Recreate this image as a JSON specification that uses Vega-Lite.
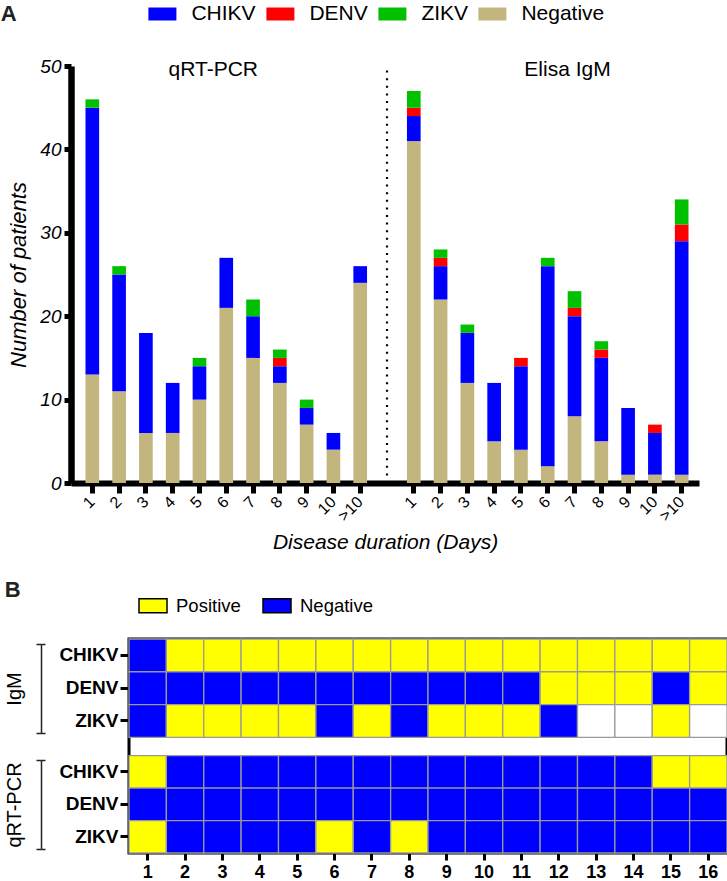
{
  "$schema": "https://vega.github.io/schema/vega-lite/v6.json",
  "padding": {"left": 0, "top": 0, "right": 2, "bottom": 10},
  "autosize": {"type": "pad"},
  "background": "white",
  "config": {
    "font": "Liberation Sans",
    "view": {"stroke": null},
    "axis": {"grid": false, "zindex": 1}
  },
  "datasets": {
    "stackOrder": [
      {"result": "Negative", "level": 1}, {"result": "CHIKV", "level": 2}, {"result": "DENV", "level": 3}, {"result": "ZIKV", "level": 4}
    ],
    "bars": [
      {"day": "q1", "result": "Negative", "n": 13}, {"day": "q1", "result": "CHIKV", "n": 32}, {"day": "q1", "result": "ZIKV", "n": 1},
      {"day": "q2", "result": "Negative", "n": 11}, {"day": "q2", "result": "CHIKV", "n": 14}, {"day": "q2", "result": "ZIKV", "n": 1},
      {"day": "q3", "result": "Negative", "n": 6}, {"day": "q3", "result": "CHIKV", "n": 12},
      {"day": "q4", "result": "Negative", "n": 6}, {"day": "q4", "result": "CHIKV", "n": 6},
      {"day": "q5", "result": "Negative", "n": 10}, {"day": "q5", "result": "CHIKV", "n": 4}, {"day": "q5", "result": "ZIKV", "n": 1},
      {"day": "q6", "result": "Negative", "n": 21}, {"day": "q6", "result": "CHIKV", "n": 6},
      {"day": "q7", "result": "Negative", "n": 15}, {"day": "q7", "result": "CHIKV", "n": 5}, {"day": "q7", "result": "ZIKV", "n": 2},
      {"day": "q8", "result": "Negative", "n": 12}, {"day": "q8", "result": "CHIKV", "n": 2}, {"day": "q8", "result": "DENV", "n": 1}, {"day": "q8", "result": "ZIKV", "n": 1},
      {"day": "q9", "result": "Negative", "n": 7}, {"day": "q9", "result": "CHIKV", "n": 2}, {"day": "q9", "result": "ZIKV", "n": 1},
      {"day": "q10", "result": "Negative", "n": 4}, {"day": "q10", "result": "CHIKV", "n": 2},
      {"day": "q>10", "result": "Negative", "n": 24}, {"day": "q>10", "result": "CHIKV", "n": 2},
      {"day": "e1", "result": "Negative", "n": 41}, {"day": "e1", "result": "CHIKV", "n": 3}, {"day": "e1", "result": "DENV", "n": 1}, {"day": "e1", "result": "ZIKV", "n": 2},
      {"day": "e2", "result": "Negative", "n": 22}, {"day": "e2", "result": "CHIKV", "n": 4}, {"day": "e2", "result": "DENV", "n": 1}, {"day": "e2", "result": "ZIKV", "n": 1},
      {"day": "e3", "result": "Negative", "n": 12}, {"day": "e3", "result": "CHIKV", "n": 6}, {"day": "e3", "result": "ZIKV", "n": 1},
      {"day": "e4", "result": "Negative", "n": 5}, {"day": "e4", "result": "CHIKV", "n": 7},
      {"day": "e5", "result": "Negative", "n": 4}, {"day": "e5", "result": "CHIKV", "n": 10}, {"day": "e5", "result": "DENV", "n": 1},
      {"day": "e6", "result": "Negative", "n": 2}, {"day": "e6", "result": "CHIKV", "n": 24}, {"day": "e6", "result": "ZIKV", "n": 1},
      {"day": "e7", "result": "Negative", "n": 8}, {"day": "e7", "result": "CHIKV", "n": 12}, {"day": "e7", "result": "DENV", "n": 1}, {"day": "e7", "result": "ZIKV", "n": 2},
      {"day": "e8", "result": "Negative", "n": 5}, {"day": "e8", "result": "CHIKV", "n": 10}, {"day": "e8", "result": "DENV", "n": 1}, {"day": "e8", "result": "ZIKV", "n": 1},
      {"day": "e9", "result": "Negative", "n": 1}, {"day": "e9", "result": "CHIKV", "n": 8},
      {"day": "e10", "result": "Negative", "n": 1}, {"day": "e10", "result": "CHIKV", "n": 5}, {"day": "e10", "result": "DENV", "n": 1},
      {"day": "e>10", "result": "Negative", "n": 1}, {"day": "e>10", "result": "CHIKV", "n": 28}, {"day": "e>10", "result": "DENV", "n": 2}, {"day": "e>10", "result": "ZIKV", "n": 3}
    ],
    "cells": [
      {"c": 1, "g": "IgM", "v": "CHIKV", "r": "Negative"}, {"c": 2, "g": "IgM", "v": "CHIKV", "r": "Positive"}, {"c": 3, "g": "IgM", "v": "CHIKV", "r": "Positive"}, {"c": 4, "g": "IgM", "v": "CHIKV", "r": "Positive"},
      {"c": 5, "g": "IgM", "v": "CHIKV", "r": "Positive"}, {"c": 6, "g": "IgM", "v": "CHIKV", "r": "Positive"}, {"c": 7, "g": "IgM", "v": "CHIKV", "r": "Positive"}, {"c": 8, "g": "IgM", "v": "CHIKV", "r": "Positive"},
      {"c": 9, "g": "IgM", "v": "CHIKV", "r": "Positive"}, {"c": 10, "g": "IgM", "v": "CHIKV", "r": "Positive"}, {"c": 11, "g": "IgM", "v": "CHIKV", "r": "Positive"}, {"c": 12, "g": "IgM", "v": "CHIKV", "r": "Positive"},
      {"c": 13, "g": "IgM", "v": "CHIKV", "r": "Positive"}, {"c": 14, "g": "IgM", "v": "CHIKV", "r": "Positive"}, {"c": 15, "g": "IgM", "v": "CHIKV", "r": "Positive"}, {"c": 16, "g": "IgM", "v": "CHIKV", "r": "Positive"},
      {"c": 1, "g": "IgM", "v": "DENV", "r": "Negative"}, {"c": 2, "g": "IgM", "v": "DENV", "r": "Negative"}, {"c": 3, "g": "IgM", "v": "DENV", "r": "Negative"}, {"c": 4, "g": "IgM", "v": "DENV", "r": "Negative"},
      {"c": 5, "g": "IgM", "v": "DENV", "r": "Negative"}, {"c": 6, "g": "IgM", "v": "DENV", "r": "Negative"}, {"c": 7, "g": "IgM", "v": "DENV", "r": "Negative"}, {"c": 8, "g": "IgM", "v": "DENV", "r": "Negative"},
      {"c": 9, "g": "IgM", "v": "DENV", "r": "Negative"}, {"c": 10, "g": "IgM", "v": "DENV", "r": "Negative"}, {"c": 11, "g": "IgM", "v": "DENV", "r": "Negative"}, {"c": 12, "g": "IgM", "v": "DENV", "r": "Positive"},
      {"c": 13, "g": "IgM", "v": "DENV", "r": "Positive"}, {"c": 14, "g": "IgM", "v": "DENV", "r": "Positive"}, {"c": 15, "g": "IgM", "v": "DENV", "r": "Negative"}, {"c": 16, "g": "IgM", "v": "DENV", "r": "Positive"},
      {"c": 1, "g": "IgM", "v": "ZIKV", "r": "Negative"}, {"c": 2, "g": "IgM", "v": "ZIKV", "r": "Positive"}, {"c": 3, "g": "IgM", "v": "ZIKV", "r": "Positive"}, {"c": 4, "g": "IgM", "v": "ZIKV", "r": "Positive"},
      {"c": 5, "g": "IgM", "v": "ZIKV", "r": "Positive"}, {"c": 6, "g": "IgM", "v": "ZIKV", "r": "Negative"}, {"c": 7, "g": "IgM", "v": "ZIKV", "r": "Positive"}, {"c": 8, "g": "IgM", "v": "ZIKV", "r": "Negative"},
      {"c": 9, "g": "IgM", "v": "ZIKV", "r": "Positive"}, {"c": 10, "g": "IgM", "v": "ZIKV", "r": "Positive"}, {"c": 11, "g": "IgM", "v": "ZIKV", "r": "Positive"}, {"c": 12, "g": "IgM", "v": "ZIKV", "r": "Negative"},
      {"c": 13, "g": "IgM", "v": "ZIKV", "r": "Not tested"}, {"c": 14, "g": "IgM", "v": "ZIKV", "r": "Not tested"}, {"c": 15, "g": "IgM", "v": "ZIKV", "r": "Positive"}, {"c": 16, "g": "IgM", "v": "ZIKV", "r": "Not tested"},
      {"c": 1, "g": "qRT-PCR", "v": "CHIKV", "r": "Positive"}, {"c": 2, "g": "qRT-PCR", "v": "CHIKV", "r": "Negative"}, {"c": 3, "g": "qRT-PCR", "v": "CHIKV", "r": "Negative"}, {"c": 4, "g": "qRT-PCR", "v": "CHIKV", "r": "Negative"},
      {"c": 5, "g": "qRT-PCR", "v": "CHIKV", "r": "Negative"}, {"c": 6, "g": "qRT-PCR", "v": "CHIKV", "r": "Negative"}, {"c": 7, "g": "qRT-PCR", "v": "CHIKV", "r": "Negative"}, {"c": 8, "g": "qRT-PCR", "v": "CHIKV", "r": "Negative"},
      {"c": 9, "g": "qRT-PCR", "v": "CHIKV", "r": "Negative"}, {"c": 10, "g": "qRT-PCR", "v": "CHIKV", "r": "Negative"}, {"c": 11, "g": "qRT-PCR", "v": "CHIKV", "r": "Negative"}, {"c": 12, "g": "qRT-PCR", "v": "CHIKV", "r": "Negative"},
      {"c": 13, "g": "qRT-PCR", "v": "CHIKV", "r": "Negative"}, {"c": 14, "g": "qRT-PCR", "v": "CHIKV", "r": "Negative"}, {"c": 15, "g": "qRT-PCR", "v": "CHIKV", "r": "Positive"}, {"c": 16, "g": "qRT-PCR", "v": "CHIKV", "r": "Positive"},
      {"c": 1, "g": "qRT-PCR", "v": "DENV", "r": "Negative"}, {"c": 2, "g": "qRT-PCR", "v": "DENV", "r": "Negative"}, {"c": 3, "g": "qRT-PCR", "v": "DENV", "r": "Negative"}, {"c": 4, "g": "qRT-PCR", "v": "DENV", "r": "Negative"},
      {"c": 5, "g": "qRT-PCR", "v": "DENV", "r": "Negative"}, {"c": 6, "g": "qRT-PCR", "v": "DENV", "r": "Negative"}, {"c": 7, "g": "qRT-PCR", "v": "DENV", "r": "Negative"}, {"c": 8, "g": "qRT-PCR", "v": "DENV", "r": "Negative"},
      {"c": 9, "g": "qRT-PCR", "v": "DENV", "r": "Negative"}, {"c": 10, "g": "qRT-PCR", "v": "DENV", "r": "Negative"}, {"c": 11, "g": "qRT-PCR", "v": "DENV", "r": "Negative"}, {"c": 12, "g": "qRT-PCR", "v": "DENV", "r": "Negative"},
      {"c": 13, "g": "qRT-PCR", "v": "DENV", "r": "Negative"}, {"c": 14, "g": "qRT-PCR", "v": "DENV", "r": "Negative"}, {"c": 15, "g": "qRT-PCR", "v": "DENV", "r": "Negative"}, {"c": 16, "g": "qRT-PCR", "v": "DENV", "r": "Negative"},
      {"c": 1, "g": "qRT-PCR", "v": "ZIKV", "r": "Positive"}, {"c": 2, "g": "qRT-PCR", "v": "ZIKV", "r": "Negative"}, {"c": 3, "g": "qRT-PCR", "v": "ZIKV", "r": "Negative"}, {"c": 4, "g": "qRT-PCR", "v": "ZIKV", "r": "Negative"},
      {"c": 5, "g": "qRT-PCR", "v": "ZIKV", "r": "Negative"}, {"c": 6, "g": "qRT-PCR", "v": "ZIKV", "r": "Positive"}, {"c": 7, "g": "qRT-PCR", "v": "ZIKV", "r": "Negative"}, {"c": 8, "g": "qRT-PCR", "v": "ZIKV", "r": "Positive"},
      {"c": 9, "g": "qRT-PCR", "v": "ZIKV", "r": "Negative"}, {"c": 10, "g": "qRT-PCR", "v": "ZIKV", "r": "Negative"}, {"c": 11, "g": "qRT-PCR", "v": "ZIKV", "r": "Negative"}, {"c": 12, "g": "qRT-PCR", "v": "ZIKV", "r": "Negative"},
      {"c": 13, "g": "qRT-PCR", "v": "ZIKV", "r": "Negative"}, {"c": 14, "g": "qRT-PCR", "v": "ZIKV", "r": "Negative"}, {"c": 15, "g": "qRT-PCR", "v": "ZIKV", "r": "Negative"}, {"c": 16, "g": "qRT-PCR", "v": "ZIKV", "r": "Negative"}
    ]
  },
  "spacing": 156,
  "bounds": "flush",
  "resolve": {"scale": {"color": "independent"}, "legend": {"color": "independent"}},
  "vconcat": [
    {
      "width": 570,
      "height": 417,
      "title": {"text": "A", "anchor": "start", "frame": "bounds", "fontSize": 22, "fontWeight": "bold", "color": "#222222", "dx": -7, "dy": 26, "offset": 0},
      "layer": [
        {
          "data": {"name": "bars"},
          "transform": [
            {"lookup": "result", "from": {"data": {"name": "stackOrder"}, "key": "result", "fields": ["level"]}}
          ],
          "mark": {"type": "bar"},
          "encoding": {
            "x": {
              "field": "day", "type": "nominal",
              "scale": {
                "domain": ["q1", "q2", "q3", "q4", "q5", "q6", "q7", "q8", "q9", "q10", "q>10", "gap", "e1", "e2", "e3", "e4", "e5", "e6", "e7", "e8", "e9", "e10", "e>10"],
                "range": [-58, 570], "paddingInner": 0.49, "paddingOuter": 0.466, "align": 0.58
              },
              "axis": {
                "values": ["q1", "q2", "q3", "q4", "q5", "q6", "q7", "q8", "q9", "q10", "q>10", "e1", "e2", "e3", "e4", "e5", "e6", "e7", "e8", "e9", "e10", "e>10"],
                "labelExpr": "substring(datum.value, 1)",
                "labelAngle": -45, "labelAlign": "right", "labelBaseline": "middle",
                "labelFontSize": 16, "labelColor": "black", "labelPadding": 6,
                "tickColor": "black", "tickWidth": 5, "tickSize": 10,
                "domainColor": "black", "domainWidth": 6,
                "title": "Disease duration (Days)", "titleFontSize": 21, "titleFontStyle": "italic", "titleFontWeight": "normal", "titleColor": "black", "titlePadding": 8
              }
            },
            "y": {
              "field": "n", "type": "quantitative", "stack": "zero",
              "scale": {"domain": [0, 50], "nice": false},
              "axis": {
                "orient": "left", "offset": 58, "values": [0, 10, 20, 30, 40, 50],
                "labelFontSize": 19, "labelFontStyle": "italic", "labelColor": "black", "labelPadding": 3,
                "tickColor": "black", "tickWidth": 5, "tickSize": 7,
                "domainColor": "black", "domainWidth": 6.5,
                "title": "Number of patients", "titleFontSize": 22, "titleFontStyle": "italic", "titleFontWeight": "normal", "titleColor": "black", "titlePadding": 9
              }
            },
            "order": {"field": "level", "type": "quantitative", "sort": "ascending"},
            "color": {
              "field": "result", "type": "nominal",
              "scale": {"domain": ["CHIKV", "DENV", "ZIKV", "Negative"], "range": ["#0000FF", "#FF0000", "#00C000", "#C2B67E"]},
              "legend": {
                "orient": "none", "legendX": 19.4, "legendY": -66, "direction": "horizontal", "title": null,
                "symbolType": "M-1,-0.464H1V0.464H-1Z", "symbolSize": 784, "symbolStrokeWidth": 0, "symbolOpacity": 1,
                "labelFontSize": 21, "labelColor": "black", "labelOffset": 15, "columnPadding": 10, "padding": 0
              }
            }
          }
        },
        {
          "data": {"values": [{"label": "qRT-PCR", "day": "q6"}]},
          "mark": {"type": "text", "fontSize": 21, "dx": -13, "dy": 10, "baseline": "alphabetic", "align": "center", "color": "black"},
          "encoding": {
            "x": {"field": "day", "type": "nominal"},
            "y": {"datum": 50, "type": "quantitative"},
            "text": {"field": "label"}
          }
        },
        {
          "data": {"values": [{"label": "Elisa IgM", "day": "e7"}]},
          "mark": {"type": "text", "fontSize": 21, "dx": -7, "dy": 10, "baseline": "alphabetic", "align": "center", "color": "black"},
          "encoding": {
            "x": {"field": "day", "type": "nominal"},
            "y": {"datum": 50, "type": "quantitative"},
            "text": {"field": "label"}
          }
        },
        {
          "data": {"values": [{}]},
          "mark": {"type": "rule", "strokeDash": [2, 5.6], "strokeWidth": 2.2, "color": "black"},
          "encoding": {
            "x": {"datum": "gap", "type": "nominal"},
            "y": {"datum": 0, "type": "quantitative"},
            "y2": {"datum": 50}
          }
        }
      ]
    },
    {
      "width": 598,
      "height": 214,
      "view": {"stroke": "black", "strokeWidth": 3},
      "title": {"text": "B", "anchor": "start", "frame": "bounds", "fontSize": 22, "fontWeight": "bold", "color": "#222222", "dx": 0.5, "dy": 11.7, "offset": 0},
      "data": {"name": "cells"},
      "layer": [
        {
          "transform": [{"filter": "datum.g === 'IgM'"}],
          "mark": {"type": "rect", "stroke": "#9a9a9a", "strokeWidth": 1.3},
          "encoding": {
            "x": {
              "field": "c", "type": "ordinal", "scale": {"paddingInner": 0, "paddingOuter": 0},
              "axis": {"labelFontSize": 18, "labelFontWeight": "bold", "labelColor": "black", "labelAngle": 0, "labelPadding": 3, "tickColor": "black", "tickWidth": 3, "tickSize": 7, "domain": false, "title": null}
            },
            "y": {
              "field": "v", "type": "nominal",
              "scale": {"domain": ["CHIKV", "DENV", "ZIKV"], "range": [0, 98.3], "paddingInner": 0, "paddingOuter": 0},
              "axis": {"orient": "left", "title": null, "labelFontSize": 19, "labelFontWeight": "bold", "labelColor": "black", "labelPadding": 2, "tickColor": "black", "tickWidth": 3, "tickSize": 9, "domain": false}
            },
            "color": {
              "field": "r", "type": "nominal",
              "scale": {"domain": ["Positive", "Negative", "Not tested"], "range": ["#FFFF00", "#0000FF", "#FFFFFF"]},
              "legend": {
                "orient": "none", "legendX": 9, "legendY": -48.3, "direction": "horizontal", "title": null, "values": ["Positive", "Negative"],
                "symbolType": "M-1,-0.5H1V0.5H-1Z", "symbolSize": 784, "symbolStrokeColor": "black", "symbolStrokeWidth": 1.5, "symbolOpacity": 1,
                "labelFontSize": 18.5, "labelColor": "black", "labelOffset": 8, "columnPadding": 19, "padding": 0
              }
            }
          }
        },
        {
          "transform": [{"filter": "datum.g === 'qRT-PCR'"}],
          "mark": {"type": "rect", "stroke": "#9a9a9a", "strokeWidth": 1.3},
          "encoding": {
            "x": {
              "field": "c", "type": "ordinal", "scale": {"paddingInner": 0, "paddingOuter": 0},
              "axis": {"labelFontSize": 18, "labelFontWeight": "bold", "labelColor": "black", "labelAngle": 0, "labelPadding": 3, "tickColor": "black", "tickWidth": 3, "tickSize": 7, "domain": false, "title": null}
            },
            "y": {
              "field": "v", "type": "nominal",
              "scale": {"domain": ["CHIKV", "DENV", "ZIKV"], "range": [116.6, 214], "paddingInner": 0, "paddingOuter": 0},
              "axis": {"orient": "left", "title": null, "labelFontSize": 19, "labelFontWeight": "bold", "labelColor": "black", "labelPadding": 2, "tickColor": "black", "tickWidth": 3, "tickSize": 9, "domain": false}
            },
            "color": {
              "field": "r", "type": "nominal",
              "scale": {"domain": ["Positive", "Negative", "Not tested"], "range": ["#FFFF00", "#0000FF", "#FFFFFF"]},
              "legend": {
                "orient": "none", "legendX": 9, "legendY": -48.3, "direction": "horizontal", "title": null, "values": ["Positive", "Negative"],
                "symbolType": "M-1,-0.5H1V0.5H-1Z", "symbolSize": 784, "symbolStrokeColor": "black", "symbolStrokeWidth": 1.5, "symbolOpacity": 1,
                "labelFontSize": 18.5, "labelColor": "black", "labelOffset": 8, "columnPadding": 19, "padding": 0
              }
            }
          }
        },
        {
          "data": {"values": [{"assay": "IgM"}]},
          "mark": {"type": "text", "text": ""},
          "encoding": {
            "x": {"datum": 1, "type": "ordinal"},
            "y": {
              "datum": 0, "type": "quantitative",
              "scale": {"domain": [0, 1], "range": [5, 94]},
              "axis": {"orient": "left", "offset": 88, "values": [0, 1], "labels": false, "domain": true, "domainColor": "#222222", "domainWidth": 1.5, "tickColor": "#222222", "tickWidth": 1.5, "tickSize": 5, "title": "IgM", "titleFontSize": 20, "titleFontWeight": "normal", "titleColor": "black", "titlePadding": 11}
            }
          }
        },
        {
          "data": {"values": [{"assay": "qRT-PCR"}]},
          "mark": {"type": "text", "text": ""},
          "encoding": {
            "x": {"datum": 1, "type": "ordinal"},
            "y": {
              "datum": 0, "type": "quantitative",
              "scale": {"domain": [0, 1], "range": [121, 210]},
              "axis": {"orient": "left", "offset": 88, "values": [0, 1], "labels": false, "domain": true, "domainColor": "#222222", "domainWidth": 1.5, "tickColor": "#222222", "tickWidth": 1.5, "tickSize": 5, "title": "qRT-PCR", "titleFontSize": 20, "titleFontWeight": "normal", "titleColor": "black", "titlePadding": 11}
            }
          }
        },
        {
          "data": {"values": [{"assay": "IgM"}]},
          "mark": {"type": "text", "text": ""},
          "encoding": {
            "x": {"datum": 1, "type": "ordinal"},
            "y": {
              "datum": 0, "type": "quantitative",
              "scale": {"domain": [0, 1], "range": [5, 94]},
              "axis": {"orient": "left", "offset": 88, "values": [0, 1], "labels": false, "domain": false, "tickColor": "#222222", "tickWidth": 1.5, "tickSize": -4, "title": null}
            }
          }
        },
        {
          "data": {"values": [{"assay": "qRT-PCR"}]},
          "mark": {"type": "text", "text": ""},
          "encoding": {
            "x": {"datum": 1, "type": "ordinal"},
            "y": {
              "datum": 0, "type": "quantitative",
              "scale": {"domain": [0, 1], "range": [121, 210]},
              "axis": {"orient": "left", "offset": 88, "values": [0, 1], "labels": false, "domain": false, "tickColor": "#222222", "tickWidth": 1.5, "tickSize": -4, "title": null}
            }
          }
        }
      ],
      "resolve": {"scale": {"y": "independent"}, "axis": {"y": "independent"}}
    }
  ]
}
